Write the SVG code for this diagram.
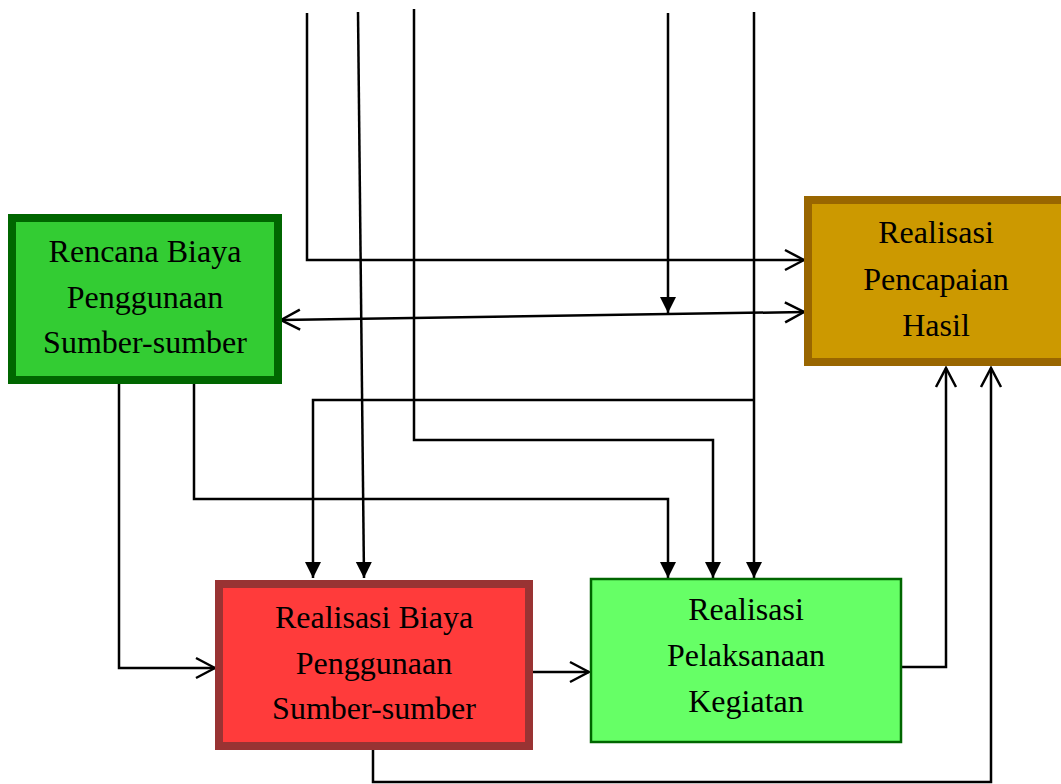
<svg xmlns="http://www.w3.org/2000/svg" width="1061" height="784" viewBox="0 0 1061 784">
<style>
.lbl{font-family:"Liberation Serif","Times New Roman",serif;font-size:32px;fill:#000;text-anchor:middle}
.ln{fill:none;stroke:#000;stroke-width:2.5}
.open{marker-end:url(#openArr)}
.fill{marker-end:url(#fillArr)}
</style>
<defs>
<marker id="openArr" markerUnits="userSpaceOnUse" viewBox="-22 -12 24 24" refX="0" refY="0" markerWidth="24" markerHeight="24" orient="auto-start-reverse">
<path d="M-19,-10 L0,0 L-19,10" fill="none" stroke="#000" stroke-width="2.5"/>
</marker>
<marker id="fillArr" markerUnits="userSpaceOnUse" viewBox="-18 -10 20 20" refX="0" refY="0" markerWidth="20" markerHeight="20" orient="auto">
<path d="M-16,-8 L0,0 L-16,8 Z" fill="#000"/>
</marker>
</defs>
<g id="connectors">
<polyline class="ln open" points="307,13 307,260 804,260"/>
<line class="ln fill" x1="358" y1="12" x2="364" y2="578"/>
<polyline class="ln fill" points="414,9 414,440 713,440 713,578"/>
<line class="ln fill" x1="668" y1="13" x2="668" y2="313"/>
<line class="ln fill" x1="754" y1="12" x2="754" y2="578"/>
<polyline class="ln fill" points="754,400 313,400 313,578"/>
<line class="ln open" style="marker-start:url(#openArr)" x1="281" y1="320" x2="804" y2="312"/>
<polyline class="ln open" points="119,384 119,668 215,668"/>
<polyline class="ln fill" points="194,384 194,499 668,499 668,578"/>
<line class="ln open" x1="530" y1="672" x2="589" y2="672"/>
<polyline class="ln open" points="373,750 373,782 991,782 991,368"/>
<polyline class="ln open" points="902,667 946,667 946,368"/>
</g>
<g id="node-rencana">
<rect x="12" y="218" width="266" height="162" fill="#33CC33" stroke="#006600" stroke-width="8"/>
<text class="lbl" x="145" y="262">Rencana Biaya</text>
<text class="lbl" x="145" y="308">Penggunaan</text>
<text class="lbl" x="145" y="353">Sumber-sumber</text>
</g>
<g id="node-hasil">
<rect x="808" y="200" width="270" height="162" fill="#CC9900" stroke="#996600" stroke-width="8"/>
<text class="lbl" x="936" y="243">Realisasi</text>
<text class="lbl" x="936" y="290">Pencapaian</text>
<text class="lbl" x="936" y="336">Hasil</text>
</g>
<g id="node-realisasi-biaya">
<rect x="219" y="584" width="310" height="162" fill="#FF3B3B" stroke="#993333" stroke-width="8"/>
<text class="lbl" x="374" y="628">Realisasi Biaya</text>
<text class="lbl" x="374" y="674">Penggunaan</text>
<text class="lbl" x="374" y="719">Sumber-sumber</text>
</g>
<g id="node-kegiatan">
<rect x="591" y="579" width="310" height="163" fill="#66FF66" stroke="#006600" stroke-width="2.5"/>
<text class="lbl" x="746" y="620">Realisasi</text>
<text class="lbl" x="746" y="666">Pelaksanaan</text>
<text class="lbl" x="746" y="712">Kegiatan</text>
</g>
</svg>
